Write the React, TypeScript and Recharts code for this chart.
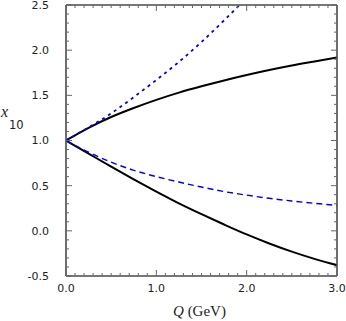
import React from 'react';
import { LineChart, Line, XAxis, YAxis } from 'recharts';

const qValues = [0, 0.25, 0.5, 0.75, 1, 1.25, 1.5, 1.75, 2, 2.25, 2.5, 2.75, 3];
const upperSolid = [1, 1.14, 1.26, 1.36, 1.45, 1.53, 1.6, 1.665, 1.725, 1.78, 1.83, 1.875, 1.92];
const upperDotted = [1, 1.145, 1.3, 1.48, 1.67, 1.87, 2.09, 2.33, 2.58];
const lowerDashed = [1, 0.87, 0.76, 0.67, 0.6, 0.54, 0.485, 0.435, 0.395, 0.36, 0.33, 0.305, 0.28];
const lowerSolid = [1, 0.855, 0.71, 0.57, 0.435, 0.305, 0.185, 0.07, -0.04, -0.14, -0.23, -0.31, -0.38];

const xTicks = [0, 0.1, 0.2, 0.3, 0.4, 0.5, 0.6, 0.7, 0.8, 0.9, 1, 1.1, 1.2, 1.3, 1.4, 1.5, 1.6, 1.7, 1.8, 1.9, 2, 2.1, 2.2, 2.3, 2.4, 2.5, 2.6, 2.7, 2.8, 2.9, 3];
const xMajor = [0, 1, 2, 3];
const yTicks = [-0.5, -0.4, -0.3, -0.2, -0.1, 0, 0.1, 0.2, 0.3, 0.4, 0.5, 0.6, 0.7, 0.8, 0.9, 1, 1.1, 1.2, 1.3, 1.4, 1.5, 1.6, 1.7, 1.8, 1.9, 2, 2.1, 2.2, 2.3, 2.4, 2.5];
const yMajor = [-0.5, 0, 0.5, 1, 1.5, 2, 2.5];

const data = qValues.map((q, i) => ({
  q,
  upperSolid: upperSolid[i],
  upperDotted: upperDotted[i],
  lowerDashed: lowerDashed[i],
  lowerSolid: lowerSolid[i],
}));

const FRAME = '#4a4a4a';
const TICK = '#666';
const TEXT = '#222';
const FONT = '"DejaVu Sans", sans-serif';
const MAJOR_LEN = 6;
const MINOR_LEN = 3;
const Y_MARGIN = 17;
const X_MARGIN = 8;

const isMajor = (v: number, list: number[]) => list.some((m) => Math.abs(m - v) < 1e-6);

const LeftTick = (props: any) => {
  const { x, y, payload } = props;
  const v = payload.value;
  const major = isMajor(v, yMajor);
  const ax = Number(x) + Y_MARGIN;
  return (
    <g>
      <path d={`M${ax},${y}h${major ? MAJOR_LEN : MINOR_LEN}`} stroke={TICK} strokeWidth={1} fill="none" />
      {major && (
        <text x={x} y={y} dy="0.36em" textAnchor="end" fontSize={11} fontFamily={FONT} fill={TEXT}>
          {v.toFixed(1)}
        </text>
      )}
    </g>
  );
};

const BottomTick = (props: any) => {
  const { x, y, payload } = props;
  const v = payload.value;
  const major = isMajor(v, xMajor);
  const ay = Number(y) - X_MARGIN;
  return (
    <g>
      <path d={`M${x},${ay}v${-(major ? MAJOR_LEN : MINOR_LEN)}`} stroke={TICK} strokeWidth={1} fill="none" />
      {major && (
        <text x={x} y={y} dy="0.75em" textAnchor="middle" fontSize={11} fontFamily={FONT} fill={TEXT}>
          {v.toFixed(1)}
        </text>
      )}
    </g>
  );
};

const TopTick = (props: any) => {
  const { x, y, payload } = props;
  const major = isMajor(payload.value, xMajor);
  return <path d={`M${x},${y}v${major ? MAJOR_LEN : MINOR_LEN}`} stroke={TICK} strokeWidth={1} fill="none" />;
};

const RightTick = (props: any) => {
  const { x, y, payload } = props;
  const major = isMajor(payload.value, yMajor);
  return <path d={`M${x},${y}h${-(major ? MAJOR_LEN : MINOR_LEN)}`} stroke={TICK} strokeWidth={1} fill="none" />;
};

const XTitle = (props: any) => {
  const vb = props.viewBox || { x: 66, y: 276, width: 271, height: 45 };
  return (
    <text x={vb.x + vb.width / 2 - 2} y={vb.y + 40} textAnchor="middle" fontSize={15} fontFamily='"Liberation Serif", serif' fill={TEXT}>
      <tspan fontStyle="italic">Q</tspan>
      <tspan> (GeV)</tspan>
    </text>
  );
};

const YTitle = (props: any) => {
  const vb = props.viewBox || { x: 0, y: 5, width: 66, height: 271 };
  return (
    <g>
      <text x={vb.x + 1} y={vb.y + 112} fontSize={16} fontStyle="italic" fontFamily='"Liberation Serif", serif' fill={TEXT}>
        x
      </text>
      <text x={vb.x + 9} y={vb.y + 124} fontSize={11.5} fontFamily={FONT} fill={TEXT}>
        10
      </text>
    </g>
  );
};

export default function App() {
  return (
    <div style={{ position: 'absolute', left: 0, top: 0 }}>
      <LineChart width={346} height={321} data={data} margin={{ top: 4, right: 8, left: 0, bottom: 0 }}>
        <XAxis
          dataKey="q"
          type="number"
          domain={[0, 3]}
          ticks={xTicks}
          interval={0}
          allowDataOverflow
          height={45}
          tickSize={0}
          tickMargin={X_MARGIN}
          tickLine={false}
          axisLine={{ stroke: FRAME, strokeWidth: 1.6 }}
          tick={BottomTick}
          label={{ content: XTitle }}
        />
        <XAxis
          xAxisId="top"
          dataKey="q"
          type="number"
          orientation="top"
          domain={[0, 3]}
          ticks={xTicks}
          interval={0}
          allowDataOverflow
          height={1}
          tickSize={0}
          tickMargin={0}
          tickLine={false}
          axisLine={{ stroke: FRAME, strokeWidth: 1.6 }}
          tick={TopTick}
        />
        <YAxis
          type="number"
          domain={[-0.5, 2.5]}
          ticks={yTicks}
          interval={0}
          allowDataOverflow
          width={66}
          tickSize={0}
          tickMargin={Y_MARGIN}
          tickLine={false}
          axisLine={{ stroke: FRAME, strokeWidth: 1.6 }}
          tick={LeftTick}
          label={{ content: YTitle }}
        />
        <YAxis
          yAxisId="right"
          type="number"
          orientation="right"
          domain={[-0.5, 2.5]}
          ticks={yTicks}
          interval={0}
          allowDataOverflow
          width={1}
          tickSize={0}
          tickMargin={0}
          tickLine={false}
          axisLine={{ stroke: FRAME, strokeWidth: 1.6 }}
          tick={RightTick}
        />
        <Line type="monotone" dataKey="upperSolid" stroke="#000" strokeWidth={2} dot={false} isAnimationActive={false} />
        <Line type="monotone" dataKey="lowerSolid" stroke="#000" strokeWidth={2} dot={false} isAnimationActive={false} />
        <Line type="monotone" dataKey="upperDotted" stroke="#0000ee" strokeWidth={1.8} strokeDasharray="3 4" dot={false} isAnimationActive={false} />
        <Line type="monotone" dataKey="lowerDashed" stroke="#0000ee" strokeWidth={1.4} strokeDasharray="6 4" dot={false} isAnimationActive={false} />
      </LineChart>
    </div>
  );
}
